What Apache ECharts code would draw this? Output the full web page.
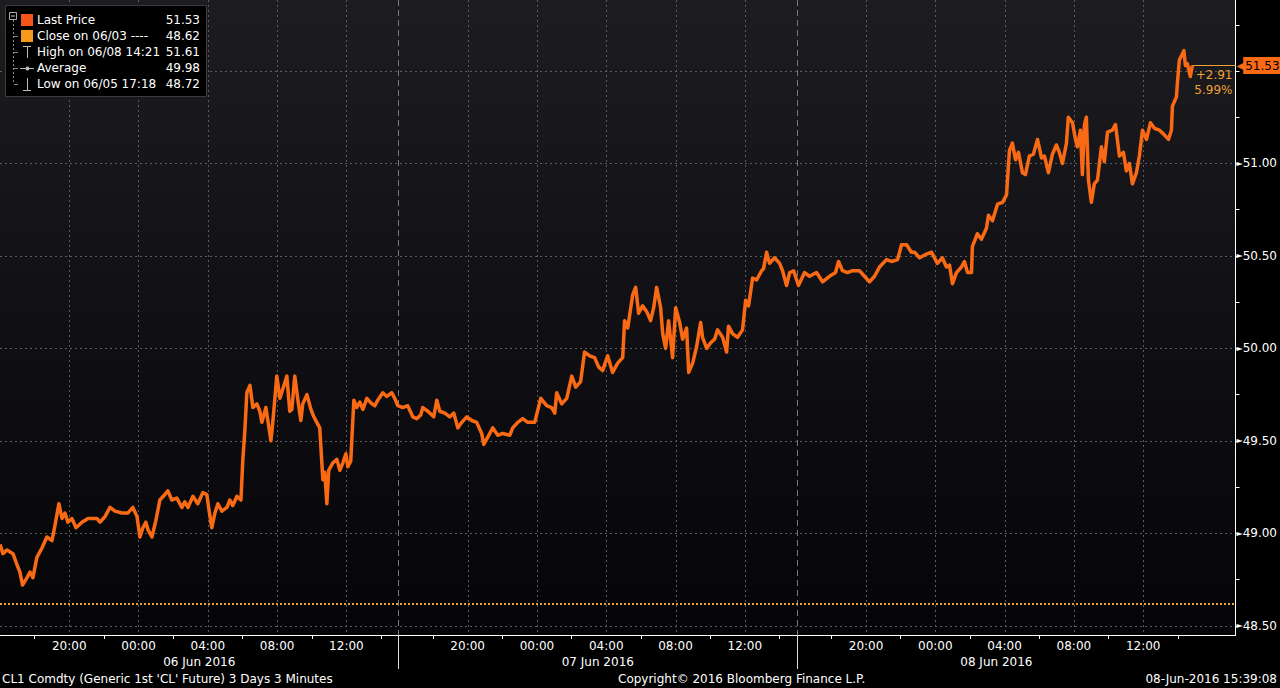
<!DOCTYPE html>
<html>
<head>
<meta charset="utf-8">
<script src="https://cdn.jsdelivr.net/npm/echarts@6/dist/echarts.min.js"></script>
<style>
html,body{margin:0;padding:0;background:#000;}
#chart{width:1280px;height:688px;}
</style>
</head>
<body>
<div id="chart"></div>
<script>
// Hours elapsed since session start (16:00 the previous day); each trading day spans 23 hours
const HOURS = [
0.00,0.17,0.40,0.75,0.98,1.15,1.30,1.56,1.73,1.90,2.13,2.42,2.71,3.00,3.17,3.40,3.58,3.75,3.92,4.15,4.39,4.73,5.08,5.60,5.77,6.06,6.35,6.64,7.04,7.39,7.67,7.91,8.08,8.25,8.42,8.54,8.77,9.00,9.23,9.52,9.69,9.92,10.21,10.50,10.67,10.85,11.14,11.42,11.71,11.94,12.06,12.23,12.41,12.58,12.81,13.10,13.27,13.44,13.68,13.91,14.02,14.14,14.25,
14.43,14.60,14.83,15.00,15.12,15.35,15.64,15.75,15.98,16.16,16.33,16.56,16.73,16.85,17.02,17.20,17.37,17.48,17.72,17.95,18.12,18.29,18.46,18.64,18.75,18.87,18.98,19.21,19.45,19.62,19.79,19.97,20.08,20.25,20.43,20.60,20.77,20.95,21.18,21.47,21.64,21.81,22.10,22.33,22.62,22.79,22.97,23.25,23.54,23.83,24.06,24.29,24.41,24.70,25.04,25.22,25.39,25.68,25.97,26.20,26.43,26.66,26.95,27.24,27.52,27.81,27.93,28.16,
28.45,28.74,29.02,29.43,29.60,29.89,30.18,30.47,30.87,31.22,31.56,31.85,32.03,32.14,32.43,32.72,33.01,33.24,33.52,33.75,34.04,34.33,34.56,34.79,35.08,35.37,35.66,35.95,36.06,36.24,36.53,36.70,36.87,37.10,37.33,37.56,37.74,37.91,38.14,38.26,38.43,38.60,38.83,39.01,39.24,39.41,39.64,39.76,39.99,40.22,40.45,40.56,40.80,41.03,41.26,41.43,41.72,41.95,42.06,42.29,42.58,42.87,43.05,43.22,43.45,43.68,43.97,44.08,44.26,44.37,
44.43,44.72,45.01,45.18,45.41,45.59,45.82,46.10,46.45,46.74,47.14,47.49,47.89,48.24,48.41,48.64,48.93,49.22,49.62,49.91,50.20,50.49,50.78,51.18,51.47,51.82,52.05,52.34,52.62,52.80,53.09,53.49,53.78,53.95,54.12,54.41,54.64,54.82,54.99,55.22,55.51,55.68,55.86,56.09,56.14,56.43,56.66,56.95,57.07,57.30,57.59,57.88,58.11,
58.28,58.45,58.63,58.80,59.03,59.20,59.43,59.66,59.90,60.13,60.30,60.53,60.76,60.99,61.16,61.34,61.57,61.68,61.92,62.09,62.20,62.38,62.49,62.61,62.72,62.84,63.01,63.18,63.36,63.59,63.76,63.94,64.22,64.40,64.63,64.86,65.03,65.20,65.38,65.61,65.78,65.96,66.19,66.42,66.65,66.94,67.17,67.46,67.63,67.69,67.92,67.98,68.09,68.35,68.44,68.55,68.72,68.84
];
const PRICES = [
48.94,48.89,48.91,48.89,48.83,48.79,48.72,48.76,48.79,48.76,48.87,48.92,48.98,48.96,49.04,49.16,49.08,49.11,49.06,49.08,49.03,49.06,49.08,49.08,49.06,49.09,49.14,49.12,49.11,49.11,49.14,49.09,48.98,49.03,49.06,49.02,48.98,49.07,49.18,49.21,49.23,49.18,49.19,49.14,49.17,49.14,49.20,49.16,49.22,49.21,49.13,49.03,49.11,49.16,49.12,49.14,49.18,49.15,49.20,49.18,49.40,49.56,49.76,
49.80,49.68,49.70,49.66,49.60,49.68,49.50,49.60,49.85,49.73,49.78,49.85,49.66,49.67,49.85,49.72,49.61,49.70,49.75,49.67,49.63,49.60,49.57,49.29,49.33,49.16,49.34,49.38,49.40,49.34,49.38,49.43,49.36,49.39,49.72,49.68,49.71,49.67,49.73,49.70,49.69,49.72,49.76,49.74,49.76,49.73,49.69,49.68,49.69,49.63,49.62,49.64,49.68,49.66,49.63,49.72,49.66,49.65,49.63,49.65,49.57,49.60,49.63,49.61,49.60,49.54,49.48,49.52,
49.57,49.53,49.54,49.53,49.57,49.60,49.62,49.60,49.60,49.73,49.69,49.68,49.65,49.76,49.70,49.73,49.85,49.79,49.82,49.98,49.96,49.95,49.90,49.88,49.96,49.87,49.92,49.95,50.15,50.11,50.29,50.33,50.19,50.23,50.20,50.15,50.22,50.33,50.22,50.08,50.00,50.15,49.95,50.22,50.14,50.05,50.11,49.87,49.92,50.01,50.14,50.06,50.00,50.03,50.05,50.10,50.06,49.98,50.12,50.08,50.06,50.10,50.26,50.23,50.38,50.37,50.42,50.43,50.52,50.48,
50.46,50.49,50.46,50.42,50.34,50.41,50.42,50.34,50.41,50.39,50.41,50.36,50.39,50.41,50.47,50.42,50.41,50.42,50.42,50.39,50.36,50.39,50.44,50.48,50.47,50.48,50.56,50.56,50.52,50.52,50.49,50.51,50.52,50.49,50.46,50.49,50.44,50.45,50.35,50.41,50.44,50.47,50.41,50.41,50.55,50.62,50.59,50.65,50.72,50.69,50.78,50.79,50.83,
51.07,51.11,51.02,51.06,50.95,50.94,51.04,51.05,51.13,51.03,51.04,50.95,51.05,51.10,51.06,51.00,51.11,51.25,51.22,51.13,51.09,51.18,50.94,51.21,51.25,50.91,50.79,50.89,50.91,51.09,51.01,51.17,51.18,51.21,51.04,51.06,50.96,51.00,50.89,50.95,51.04,51.18,51.13,51.22,51.19,51.18,51.16,51.13,51.18,51.31,51.36,51.44,51.56,51.61,51.53,51.54,51.47,51.53
];
const PREV_CLOSE = 48.62;
const AVERAGE = 49.98;
const HIGH_TEXT = 'High on 06/08 14:21';
const LOW_TEXT = 'Low on 06/05 17:18';
const CLOSE_TEXT = 'Close on 06/03 ----';

// Axis ticks / labels
const X_MIN = 0, X_MAX = 71.33;
const TIME_TICKS = [2,6,10,14,18,22, 25,29,33,37,41,45, 48,52,56,60,64,68];
const TIME_LABEL_HOURS = [4,8,12,16,20, 27,31,35,39,43, 50,54,58,62,66];
const TIME_LABELS = ['20:00','00:00','04:00','08:00','12:00','20:00','00:00','04:00','08:00','12:00','20:00','00:00','04:00','08:00','12:00'];
const DAY_BOUNDS = [23,46];
const DAY_CENTERS = [11.5,34.5,57.5];
const DAY_LABELS = ['06 Jun 2016','07 Jun 2016','08 Jun 2016'];
const Y_MIN = 48.45, Y_MAX = 51.884;
const Y_TICKS = [48.5,48.75,49,49.25,49.5,49.75,50,50.25,50.5,50.75,51,51.25,51.5,51.75];
const Y_GRID = [48.5,49,49.5,50,50.5,51,51.5];
// 51.50 is covered by the last-price tag in the reference
const Y_LABELS = [48.5,49,49.5,50,50.5,51];

const FONT = 'DejaVu Sans';
const ORANGE = '#fa6a14';
const AMBER = '#eea033';

const chart = echarts.init(document.getElementById('chart'), null, {renderer:'svg'});
const data = HOURS.map((h,i)=>[h, PRICES[i]]);
const lastIdx = PRICES.length-1;
const last = PRICES[lastIdx];
const high = Math.max(...PRICES);
const low = Math.min(...PRICES);
const chg = last - PREV_CLOSE;
const pct = chg / PREV_CLOSE * 100;

const gridBase = {left:0, top:0, right:44, bottom:53};
const LF = '12px "'+FONT+'"';

const legendRows = [
  {y:20, text:'Last Price', value:last.toFixed(2)},
  {y:36, text:CLOSE_TEXT, value:PREV_CLOSE.toFixed(2)},
  {y:52, text:HIGH_TEXT, value:high.toFixed(2)},
  {y:68, text:'Average', value:AVERAGE.toFixed(2)},
  {y:84, text:LOW_TEXT, value:low.toFixed(2)}
];
const graphics = [
  {type:'rect', shape:{x:5.5,y:5.5,width:201,height:91}, style:{fill:'#000', stroke:'#3c3c3c', lineWidth:1}, z:50},
  {type:'rect', shape:{x:9.5,y:12.5,width:7,height:7}, style:{fill:'none', stroke:'#aaa', lineWidth:1}, z:51},
  {type:'line', shape:{x1:11,y1:16,x2:15,y2:16}, style:{stroke:'#ccc', lineWidth:1}, z:51},
  {type:'line', shape:{x1:13.5,y1:20,x2:13.5,y2:84}, style:{stroke:'#888', lineWidth:1, lineDash:[2,2]}, z:51},
  {type:'rect', shape:{x:21,y:14,width:12,height:12}, style:{fill:'#f4551b'}, z:51},
  {type:'rect', shape:{x:21,y:30,width:12,height:12}, style:{fill:'#f59a1c'}, z:51},
  {type:'line', shape:{x1:23,y1:46.5,x2:31,y2:46.5}, style:{stroke:'#bbb', lineWidth:1}, z:51},
  {type:'line', shape:{x1:27.5,y1:46,x2:27.5,y2:58}, style:{stroke:'#bbb', lineWidth:1}, z:51},
  {type:'line', shape:{x1:20,y1:68.5,x2:34,y2:68.5}, style:{stroke:'#bbb', lineWidth:1}, z:51},
  {type:'circle', shape:{cx:27.5,cy:68.5,r:2}, style:{fill:'#bbb'}, z:51},
  {type:'line', shape:{x1:27.5,y1:78,x2:27.5,y2:90}, style:{stroke:'#bbb', lineWidth:1}, z:51},
  {type:'line', shape:{x1:23,y1:90.5,x2:31,y2:90.5}, style:{stroke:'#bbb', lineWidth:1}, z:51}
];
[36,52,68,84].forEach(y=>graphics.push({type:'line', shape:{x1:14,y1:y+0.5,x2:18,y2:y+0.5}, style:{stroke:'#888', lineWidth:1}, z:51}));
legendRows.forEach(r=>{
  graphics.push({type:'text', x:37, y:r.y, style:{text:r.text, fill:'#fff', font:LF, textVerticalAlign:'middle', verticalAlign:'middle'}, z:52});
  graphics.push({type:'text', x:200, y:r.y, style:{text:r.value, fill:'#fff', font:LF, textAlign:'right', align:'right', textVerticalAlign:'middle', verticalAlign:'middle'}, z:52});
});
graphics.push({type:'text', left:2, top:673, style:{text:"CL1 Comdty (Generic 1st 'CL' Future) 3 Days 3 Minutes", fill:'#fff', font:'12px "'+FONT+'"'}});
graphics.push({type:'text', left:618, top:673, style:{text:'Copyright\u00a9 2016 Bloomberg Finance L.P.', fill:'#fff', font:'12px "'+FONT+'"'}});
graphics.push({type:'text', right:3, top:673, style:{text:'08-Jun-2016 15:39:08', fill:'#fff', font:'12px "'+FONT+'"'}});

const option = {
  backgroundColor:'#000',
  animation:false,
  textStyle:{fontFamily:FONT},
  grid:[
    Object.assign({show:true, borderWidth:0, backgroundColor:new echarts.graphic.LinearGradient(0,0,0,1,[{offset:0,color:'#1c1c21'},{offset:1,color:'#050508'}])}, gridBase),
    Object.assign({}, gridBase),
    Object.assign({}, gridBase)
  ],
  xAxis:[
    {gridIndex:0, type:'value', min:X_MIN, max:X_MAX, position:'bottom',
     axisLine:{show:true, onZero:false, lineStyle:{color:'#fff', width:1}},
     axisTick:{show:true, customValues:TIME_TICKS, length:4, lineStyle:{color:'#fff'}},
     axisLabel:{show:true, customValues:TIME_LABEL_HOURS, color:'#fff', fontSize:12, fontFamily:FONT, margin:5,
       formatter:(v)=>{const i=TIME_LABEL_HOURS.findIndex(h=>Math.abs(h-v)<1e-6); return i>=0?TIME_LABELS[i]:'';}},
     splitLine:{show:false}},
    {gridIndex:1, type:'value', min:X_MIN, max:X_MAX, position:'bottom',
     axisLine:{show:false},
     axisTick:{show:true, customValues:DAY_BOUNDS, length:34, lineStyle:{color:'#ddd', width:1}},
     axisLabel:{show:true, customValues:DAY_CENTERS, color:'#fff', fontSize:12, fontFamily:FONT, margin:21,
       formatter:(v)=>{const i=DAY_CENTERS.findIndex(h=>Math.abs(h-v)<1e-6); return i>=0?DAY_LABELS[i]:'';}},
     splitLine:{show:true, lineStyle:{color:'#7a7a7a', width:1, type:[6,4]}}},
    {gridIndex:2, type:'value', min:X_MIN, max:X_MAX, position:'bottom',
     axisLine:{show:false}, axisLabel:{show:false},
     axisTick:{show:false, customValues:TIME_LABEL_HOURS},
     splitLine:{show:true, lineStyle:{color:'#5c5c5c', width:1, type:[2,3]}}}
  ],
  yAxis:[
    {gridIndex:0, type:'value', min:Y_MIN, max:Y_MAX, position:'right',
     axisLine:{show:true, onZero:false, lineStyle:{color:'#fff', width:1}},
     axisTick:{show:true, customValues:Y_TICKS, length:4, lineStyle:{color:'#fff'}},
     axisLabel:{show:true, customValues:Y_LABELS, color:'#fff', fontSize:12, fontFamily:FONT, margin:1,
       formatter:(v)=>'{t|\u25BA}'+v.toFixed(2),
       rich:{t:{fontSize:8, color:'#fff', fontFamily:FONT}}},
     splitLine:{show:false}},
    {gridIndex:1, type:'value', min:Y_MIN, max:Y_MAX, position:'right',
     axisLine:{show:false}, axisLabel:{show:false},
     axisTick:{show:false, customValues:Y_GRID},
     splitLine:{show:true, lineStyle:{color:'#5c5c5c', width:1, type:[2,3]}}},
    {gridIndex:2, type:'value', min:Y_MIN, max:Y_MAX, position:'right', show:false, splitLine:{show:false}}
  ],
  series:[
    {type:'line', xAxisIndex:0, yAxisIndex:0, data:data, showSymbol:false, symbol:'none', z:5,
     lineStyle:{color:ORANGE, width:3.5, join:'round'},
     clip:false,
     markLine:{silent:true, symbol:'none', animation:false,
       data:[
         {yAxis:PREV_CLOSE, lineStyle:{color:AMBER, width:2, type:[2,2]}, label:{show:false}},
         [{coord:[HOURS[lastIdx], last], lineStyle:{color:AMBER, width:1, type:'solid'},
           label:{show:true, position:'end', distance:1, formatter:'{a|\u25C0}{b|'+last.toFixed(2)+'}',
             rich:{a:{color:ORANGE, fontSize:10, fontFamily:FONT, padding:[0,-1,0,0]},
                   b:{color:'#000', backgroundColor:ORANGE, fontSize:12, fontFamily:FONT, padding:[3,3,2,2]}}}},
          {coord:[X_MAX, last]}]
       ]},
     markPoint:{silent:true, animation:false,
       data:[{coord:[X_MAX, last], symbol:'circle', symbolSize:0,
         label:{show:true, position:'left', distance:3, offset:[0,17], color:AMBER, fontSize:12, fontFamily:FONT, lineHeight:15, align:'right',
           formatter:'+'+chg.toFixed(2)+'\n'+pct.toFixed(2)+'%'}}]}
    }
  ],
  graphic:graphics
};
chart.setOption(option);
</script>
</body>
</html>
